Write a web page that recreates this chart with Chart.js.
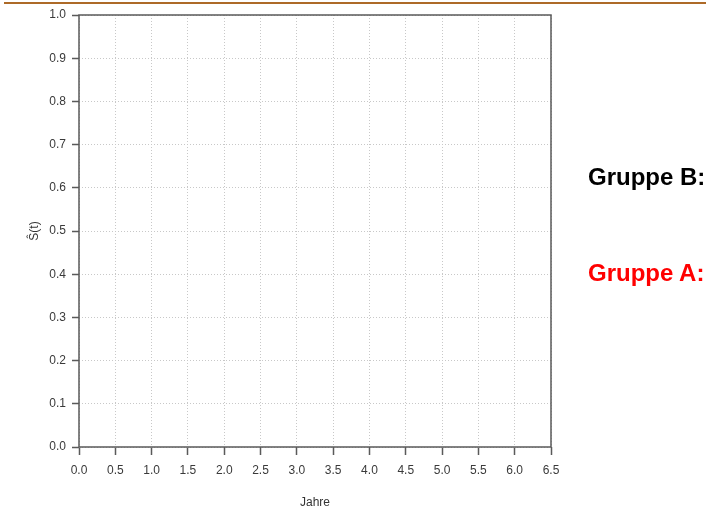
<!DOCTYPE html>
<html>
<head>
<meta charset="utf-8">
<script src="https://cdn.jsdelivr.net/npm/chart.js@4/dist/chart.umd.min.js"></script>
<style>
  html, body { margin: 0; padding: 0; background: #fff; }
  #wrap { position: relative; width: 710px; height: 511px; overflow: hidden; }
  #topline { position: absolute; left: 4px; right: 4px; top: 2px; height: 2px; background: #ad6a28; }
  canvas { position: absolute; left: 0; top: 0; }
  .grp { position: absolute; font-family: "Liberation Sans", Arial, sans-serif; font-weight: bold; font-size: 24px; line-height: 1; white-space: nowrap; }
</style>
</head>
<body>
<div id="wrap">
  <canvas id="c" width="710" height="511"></canvas>
  <div id="topline"></div>
  <div class="grp" id="gB" style="left:588px; top:165px; color:#000;">Gruppe B:</div>
  <div class="grp" id="gA" style="left:588px; top:261px; color:#f00;">Gruppe A:</div>
</div>
<script>
// Axis ranges and tick labels
const xTicks = [0.0, 0.5, 1.0, 1.5, 2.0, 2.5, 3.0, 3.5, 4.0, 4.5, 5.0, 5.5, 6.0, 6.5];
const yTicks = [0.0, 0.1, 0.2, 0.3, 0.4, 0.5, 0.6, 0.7, 0.8, 0.9, 1.0];
const xTitle = "Jahre";
const yTitle = "Ŝ(t)";
// Groups (empty plot: no survival curves drawn yet)
const groupLabels = ["Gruppe B:", "Gruppe A:"];
const groupColors = ["#000000", "#ff0000"];
const groupB = [];
const groupA = [];

const frame = {
  id: 'frame',
  afterDraw(chart) {
    const {ctx, chartArea: a} = chart;
    ctx.save();
    ctx.setLineDash([]);
    ctx.strokeStyle = '#5a5a5a';
    ctx.lineWidth = 1.5;
    ctx.beginPath();
    ctx.moveTo(a.left, a.bottom);
    ctx.lineTo(a.left, a.top);
    ctx.lineTo(a.right, a.top);
    ctx.lineTo(a.right, a.bottom);
    ctx.lineTo(a.left, a.bottom);
    ctx.stroke();
    ctx.restore();
  }
};

const tickFont = { family: "'Liberation Sans', Arial, sans-serif", size: 12 };

new Chart(document.getElementById('c'), {
  type: 'scatter',
  data: {
    datasets: [
      { label: groupLabels[0], data: groupB, borderColor: groupColors[0], showLine: true, pointRadius: 0 },
      { label: groupLabels[1], data: groupA, borderColor: groupColors[1], showLine: true, pointRadius: 0 }
    ]
  },
  options: {
    responsive: false,
    animation: false,
    layout: { padding: { left: 0, top: 15, right: 159, bottom: 0 } },
    plugins: { legend: { display: false }, tooltip: { enabled: false } },
    scales: {
      x: {
        type: 'linear',
        min: xTicks[0],
        max: xTicks[xTicks.length - 1],
        afterBuildTicks: (s) => { s.ticks = xTicks.map(v => ({ value: v })); },
        afterFit: (s) => { s.height = 64; },
        ticks: {
          font: tickFont, color: '#3a3a3a', padding: 8, maxRotation: 0, autoSkip: false,
          callback: (v) => Number(v).toFixed(1)
        },
        grid: {
          color: '#c8c8c8', lineWidth: 1, drawTicks: true, tickLength: 8,
          tickColor: '#5a5a5a', tickWidth: 1.5, tickBorderDash: [1, 0]
        },
        border: { display: false, dash: [1, 2] },
        title: { display: true, text: xTitle, font: tickFont, color: '#333', padding: { top: 0, bottom: 1 } }
      },
      y: {
        type: 'linear',
        min: yTicks[0],
        max: yTicks[yTicks.length - 1],
        afterBuildTicks: (s) => { s.ticks = yTicks.map(v => ({ value: v })); },
        afterFit: (s) => { s.width = 79; },
        ticks: {
          font: tickFont, color: '#3a3a3a', padding: 6, autoSkip: false,
          callback: (v) => Number(v).toFixed(1)
        },
        grid: {
          color: '#c8c8c8', lineWidth: 1, drawTicks: true, tickLength: 7,
          tickColor: '#5a5a5a', tickWidth: 1.5, tickBorderDash: [1, 0]
        },
        border: { display: false, dash: [1, 2] },
        title: { display: true, text: yTitle, font: tickFont, color: '#333', padding: { top: 27, bottom: 0 } }
      }
    }
  },
  plugins: [frame]
});
</script>
</body>
</html>
